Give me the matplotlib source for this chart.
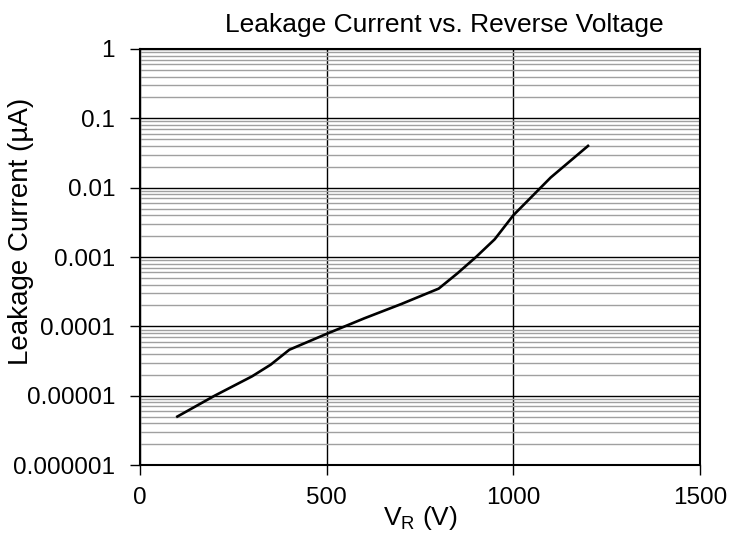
import matplotlib
matplotlib.use('Agg')
import matplotlib.pyplot as plt
from matplotlib.ticker import FixedLocator, FixedFormatter, LogLocator, NullFormatter

plt.rcParams['font.family'] = ['Liberation Sans', 'DejaVu Sans']
plt.rcParams['mathtext.fontset'] = 'custom'
plt.rcParams['mathtext.rm'] = 'Liberation Sans'

# reverse voltage (V) and leakage current (uA)
voltage = [100, 200, 300, 350, 400, 500, 600, 700, 800, 850, 900, 950, 1000, 1100, 1200]
leakage = [5e-6, 1e-5, 1.9e-5, 2.8e-5, 4.6e-5, 7.8e-5, 1.3e-4, 2.1e-4, 3.5e-4,
           5.8e-4, 1e-3, 1.8e-3, 4e-3, 1.4e-2, 4e-2]

y_ticks = [1e-6, 1e-5, 1e-4, 1e-3, 1e-2, 1e-1, 1]
y_labels = ['0.000001', '0.00001', '0.0001', '0.001', '0.01', '0.1', '1']
x_ticks = [0, 500, 1000, 1500]

fig = plt.figure(figsize=(7.35, 5.43), dpi=100)
ax = fig.add_axes([0.1905, 0.1436, 0.7619, 0.7662])

ax.plot(voltage, leakage, color='black', linewidth=1.9, zorder=3)

ax.set_yscale('log')
ax.set_xlim(0, 1500)
ax.set_ylim(1e-6, 1)

ax.yaxis.set_major_locator(FixedLocator(y_ticks))
ax.yaxis.set_major_formatter(FixedFormatter(y_labels))
ax.yaxis.set_minor_locator(LogLocator(base=10, subs=range(2, 10)))
ax.yaxis.set_minor_formatter(NullFormatter())
ax.set_xticks(x_ticks)

ax.grid(True, which='major', axis='both', color='black', linewidth=1)
ax.grid(True, which='minor', axis='y', color='#a0a0a0', linewidth=1)
ax.set_axisbelow(True)

ax.tick_params(axis='both', which='major', direction='out', length=7, width=1,
               labelsize=17.5, colors='black')
ax.tick_params(axis='x', pad=9)
ax.tick_params(axis='y', pad=11)
ax.tick_params(axis='y', which='minor', length=0)
for s in ax.spines.values():
    s.set_linewidth(1.5)
    s.set_color('black')

fig.text(0.604, 1 - 32 / 543, 'Leakage Current vs. Reverse Voltage',
         fontsize=19, ha='center', va='baseline')
ax.set_xlabel(r'$\mathregular{V_R}$ (V)', fontsize=19)
ax.xaxis.set_label_coords(0.5, -0.094)
ax.set_ylabel('Leakage Current (µA)', fontsize=20)
ax.yaxis.set_label_coords(-0.19, 0.5625)

fig.savefig('out.png', dpi=100)
